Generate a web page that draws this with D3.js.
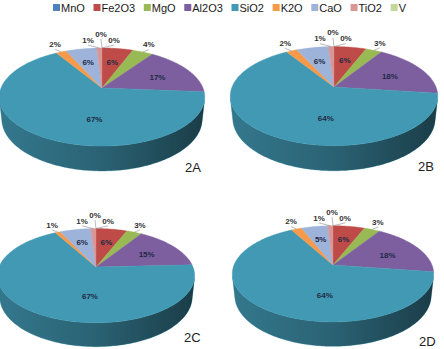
<!DOCTYPE html>
<html>
<head>
<meta charset="utf-8">
<script src="https://cdn.jsdelivr.net/npm/d3@7"></script>
<style>
  body { margin: 0; background: #fff; }
  svg { display: block; font-family: "Liberation Sans", Arial, sans-serif; }
</style>
</head>
<body>
<div id="container"></div>
<script>
// data (percent labels)
const components = ["MnO", "Fe2O3", "MgO", "Al2O3", "SiO2", "K2O", "CaO", "TiO2", "V"];
const values2A = [0, 6, 4, 17, 67, 2, 6, 1, 0];
const values2B = [0, 6, 3, 18, 64, 2, 6, 1, 0];
const values2C = [0, 6, 3, 15, 67, 1, 6, 1, 0];
const values2D = [0, 6, 3, 18, 64, 2, 5, 1, 0];
const panelNames = ["2A", "2B", "2C", "2D"];

const colors = ["#4F81BD", "#BE4B48", "#98B954", "#7D5FA0", "#4299B4",
                "#F59A4A", "#9DB3DA", "#D99694", "#C3D69B"];

const w = 444;
const h = 349;

const svg = d3.select("#container")
  .append("svg")
    .attr("width", w)
    .attr("height", h);

const color = d3.scaleOrdinal().domain(components).range(colors);

// legend, laid out left to right between 53 and 406
const legend = svg.append("g");
let items = components.map(function(c){
  let t = legend.append("text")
    .attr("y", 12)
    .attr("font-size", 11)
    .attr("fill", "#1a1a1a")
    .text(c);
  return {c: c, t: t, wd: t.node().getComputedTextLength()};
});
let used = d3.sum(items, d => d.wd + 8);
let legGap = (406 - 53 - used) / (items.length - 1);
let lx = 53;
items.forEach(function(d){
  legend.append("rect")
    .attr("x", lx).attr("y", 4)
    .attr("width", 7).attr("height", 7)
    .attr("fill", color(d.c));
  d.t.attr("x", lx + 8);
  lx += 8 + d.wd + legGap;
});

// 3d pie settings
const tilt = 28 * Math.PI / 180;
const sa = Math.sin(tilt), ca = Math.cos(tilt);
const camDist = 4.8;
const thick = 0.25;
// rim is seen from this angle on (perspective silhouette)
const sideFrom = Math.acos(-1 / (camDist * ca));
const sideTo = 2 * Math.PI - sideFrom;

const panels = [
  {name: panelNames[0], values: values2A, cx: 102, cy: 88, s: 101, lx: 185, ly: 172},
  {name: panelNames[1], values: values2B, cx: 334, cy: 87, s: 102, lx: 418, ly: 171},
  {name: panelNames[2], values: values2C, cx: 96, cy: 267, s: 97, lx: 184, ly: 342},
  {name: panelNames[3], values: values2D, cx: 333, cy: 265, s: 99, lx: 419, ly: 346}
];

const pie = d3.pie().sort(null).value(d => d.value);

const defs = svg.append("defs");

panels.forEach(function(p, pi){
  function proj(r, ang, hh){
    let u = r * Math.sin(ang);
    let z = -r * Math.cos(ang);
    let yUp = hh * ca - z * sa;
    let depth = camDist - (z * ca + hh * sa);
    let k = camDist / depth;
    return [p.cx + p.s * u * k, p.cy - p.s * yUp * k];
  }
  function arcPts(a0, a1, r, hh){
    let n = Math.max(2, Math.ceil((a1 - a0) / (Math.PI / 180)));
    let pts = [];
    for (let i = 0; i <= n; i++) {
      pts.push(proj(r, a0 + (a1 - a0) * i / n, hh));
    }
    return pts;
  }

  let gid = "shade" + pi;
  let grad = defs.append("linearGradient")
    .attr("id", gid)
    .attr("gradientUnits", "userSpaceOnUse")
    .attr("x1", p.cx - p.s).attr("x2", p.cx + p.s)
    .attr("y1", 0).attr("y2", 0);
  grad.append("stop").attr("offset", 0).attr("stop-color", "#000").attr("stop-opacity", 0.22);
  grad.append("stop").attr("offset", 0.5).attr("stop-color", "#000").attr("stop-opacity", 0.36);
  grad.append("stop").attr("offset", 1).attr("stop-color", "#000").attr("stop-opacity", 0.6);

  let data = components.map((c, i) => ({name: c, value: p.values[i]}));
  let arcs = pie(data);

  let g = svg.append("g");
  let sides = g.append("g");
  let tops = g.append("g");
  let labels = g.append("g");

  let outside = [];

  arcs.forEach(function(a){
    let a0 = a.startAngle, a1 = a.endAngle;
    let col = color(a.data.name);
    let polys = [];
    if (a1 > a0) {
      let top = [proj(0, 0, 0)].concat(arcPts(a0, a1, 1, 0));
      polys.push(top);
      tops.append("path")
        .attr("d", d3.line()(top) + "Z")
        .attr("fill", col)
        .attr("stroke", col)
        .attr("stroke-width", 0.4);

      let s0 = Math.max(a0, sideFrom), s1 = Math.min(a1, sideTo);
      if (s1 > s0) {
        let side = arcPts(s0, s1, 1, 0).concat(arcPts(s0, s1, 1, -thick).reverse());
        polys.push(side);
        let d = d3.line()(side) + "Z";
        sides.append("path").attr("d", d).attr("fill", col).attr("stroke", col).attr("stroke-width", 0.4);
        sides.append("path").attr("d", d).attr("fill", "url(#" + gid + ")");
      }
    }
    let txt = a.data.value + "%";
    if (a.data.value >= 5) {
      // label at centroid of the visible shape of the slice
      let sx = 0, sy = 0, sw = 0;
      polys.forEach(function(pl){
        let ar = Math.abs(d3.polygonArea(pl));
        let c = d3.polygonCentroid(pl);
        sx += c[0] * ar; sy += c[1] * ar; sw += ar;
      });
      labels.append("text")
        .attr("x", sx / sw).attr("y", sy / sw)
        .attr("dy", "0.35em")
        .attr("text-anchor", "middle")
        .attr("font-size", 8)
        .attr("font-weight", "bold")
        .attr("fill", "#1F2A44")
        .text(txt);
    } else {
      let mid = (a0 + a1) / 2;
      let e = proj(1, mid, 0);
      let l = proj(1.18, mid, 0);
      outside.push({txt: txt, ang: mid > Math.PI ? mid - 2 * Math.PI : mid, e: e, x: l[0], y: l[1]});
    }
  });

  // spread the small labels so they do not sit on each other
  outside.sort((m, n) => m.ang - n.ang);
  const gap = 13;
  for (let it = 0; it < 80; it++) {
    for (let i = 0; i < outside.length - 1; i++) {
      let m = outside[i], n = outside[i + 1];
      if (Math.abs(m.y - n.y) < 10 && n.x - m.x < gap) {
        let push = (gap - (n.x - m.x)) / 2;
        m.x -= push; n.x += push;
      }
    }
  }
  // lift the inner members of a crowded run
  let run = [outside[0]];
  function liftRun(){
    for (let k = 1; k < run.length - 1; k++) run[k].y -= 6;
  }
  for (let i = 1; i < outside.length; i++) {
    let m = outside[i - 1], n = outside[i];
    if (n.x - m.x < gap + 0.5 && Math.abs(m.y - n.y) < 10) run.push(n);
    else { liftRun(); run = [n]; }
  }
  liftRun();

  outside.forEach(function(o){
    labels.append("line")
      .attr("x1", o.e[0]).attr("y1", o.e[1])
      .attr("x2", o.x).attr("y2", o.y + 3)
      .attr("stroke", "#8a8a8a")
      .attr("stroke-width", 0.6);
    labels.append("text")
      .attr("x", o.x).attr("y", o.y)
      .attr("dy", "0.1em")
      .attr("text-anchor", "middle")
      .attr("font-size", 8)
      .attr("font-weight", "bold")
      .attr("fill", "#333")
      .text(o.txt);
  });

  svg.append("text")
    .attr("x", p.lx).attr("y", p.ly)
    .attr("font-size", 13)
    .attr("fill", "#222")
    .text(p.name);
});
</script>
</body>
</html>
